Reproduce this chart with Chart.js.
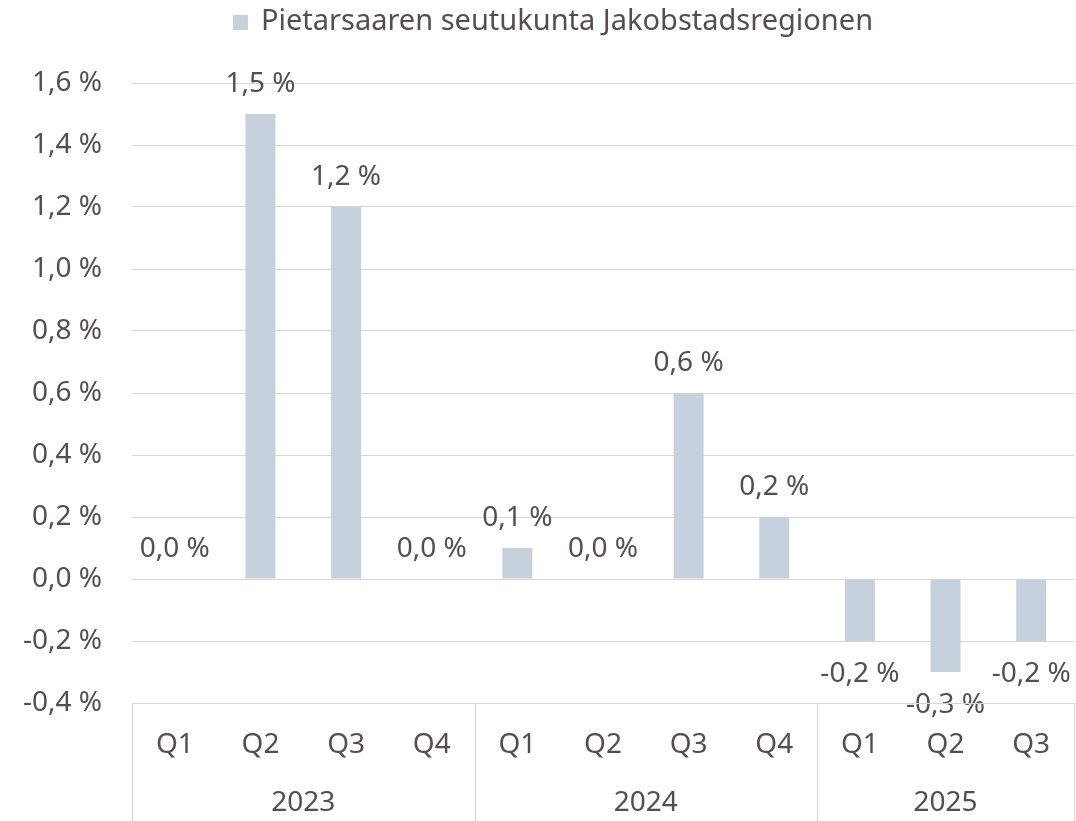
<!DOCTYPE html>
<html lang="fi">
<head>
<meta charset="UTF-8">
<title>Pietarsaaren seutukunta Jakobstadsregionen</title>
<script src="https://cdn.jsdelivr.net/npm/chart.js"></script>
<style>
  html, body { margin: 0; padding: 0; background: #fff; }
  #wrap { width: 1076px; height: 821px; }
</style>
</head>
<body>
<div id="wrap"><canvas id="chart"></canvas></div>
<script>
// data
const quarters = ["Q1", "Q2", "Q3", "Q4", "Q1", "Q2", "Q3", "Q4", "Q1", "Q2", "Q3"];
const years = ["2023", "2024", "2025"];
const quartersPerYear = [4, 4, 3];
const values = [0.0, 1.5, 1.2, 0.0, 0.1, 0.0, 0.6, 0.2, -0.2, -0.3, -0.2];
const seriesName = "Pietarsaaren seutukunta Jakobstadsregionen";

const textColor = "#574d4d";
const lineColor = "#d9d4d4";
const barColor = "#c7d1dd";
const fontFamily = "'Noto Sans', sans-serif";

function fmt(v) {
    return v.toFixed(1).replace(".", ",").replace("-0,0", "0,0") + " %";
}

const labelsPlugin = {
    id: "labels",
    afterDatasetsDraw(chart) {
        const ctx = chart.ctx;
        const meta = chart.getDatasetMeta(0);
        ctx.save();
        ctx.fillStyle = textColor;
        ctx.font = "28px " + fontFamily;
        ctx.textAlign = "center";
        ctx.textBaseline = "middle";
        meta.data.forEach((bar, i) => {
            const v = values[i];
            const y = v < 0 ? bar.y + 33 : bar.y - 30;
            ctx.fillText(fmt(v), bar.x, y);
        });
        ctx.restore();
    },
    afterDraw(chart) {
        const ctx = chart.ctx;
        const x = chart.scales.x;
        const area = chart.chartArea;
        const half = (x.getPixelForValue(1) - x.getPixelForValue(0)) / 2;
        ctx.save();
        // axis box and year separators
        ctx.strokeStyle = lineColor;
        ctx.lineWidth = 1;
        ctx.beginPath();
        ctx.moveTo(area.left, area.bottom + 0.5);
        ctx.lineTo(area.right, area.bottom + 0.5);
        let idx = 0;
        const seps = [0];
        quartersPerYear.forEach(n => { idx += n; seps.push(idx); });
        seps.forEach(s => {
            const px = Math.round(x.getPixelForValue(s) - half) + 0.5;
            ctx.moveTo(px, area.bottom);
            ctx.lineTo(px, chart.height);
        });
        ctx.stroke();

        ctx.fillStyle = textColor;
        ctx.font = "28px " + fontFamily;
        ctx.textAlign = "center";
        ctx.textBaseline = "middle";
        quarters.forEach((q, i) => {
            ctx.fillText(q, x.getPixelForValue(i), area.bottom + 42);
        });
        for (let k = 0; k < years.length; k++) {
            const a = x.getPixelForValue(seps[k]) - half;
            const b = x.getPixelForValue(seps[k + 1]) - half;
            ctx.fillText(years[k], (a + b) / 2, area.bottom + 100);
        }

        // legend, centred over the plot area
        ctx.font = "29px " + fontFamily;
        const tw = ctx.measureText(seriesName).width;
        const total = 15 + 13 + tw;
        const lx = (area.left + area.right - total) / 2 - 50;
        ctx.fillStyle = barColor;
        ctx.fillRect(lx, 15, 15, 15);
        ctx.fillStyle = textColor;
        ctx.textAlign = "left";
        ctx.fillText(seriesName, lx + 28, 22);
        ctx.restore();
    }
};

new Chart(document.getElementById("chart"), {
    type: "bar",
    data: {
        labels: quarters,
        datasets: [{
            label: seriesName,
            data: values,
            backgroundColor: barColor,
            categoryPercentage: 1,
            barPercentage: 0.35
        }]
    },
    options: {
        responsive: true,
        maintainAspectRatio: false,
        animation: false,
        layout: { padding: { top: 83, bottom: 118, right: 2, left: 0 } },
        plugins: {
            legend: { display: false },
            tooltip: { enabled: false }
        },
        scales: {
            x: { display: false },
            y: {
                min: -0.4,
                max: 1.6,
                afterFit(scale) { scale.width = 132; },
                ticks: {
                    stepSize: 0.2,
                    padding: 30,
                    color: textColor,
                    font: { size: 28, family: fontFamily },
                    callback: v => fmt(v)
                },
                grid: { color: lineColor, drawTicks: false },
                border: { display: false }
            }
        }
    },
    plugins: [labelsPlugin]
});
</script>
</body>
</html>
